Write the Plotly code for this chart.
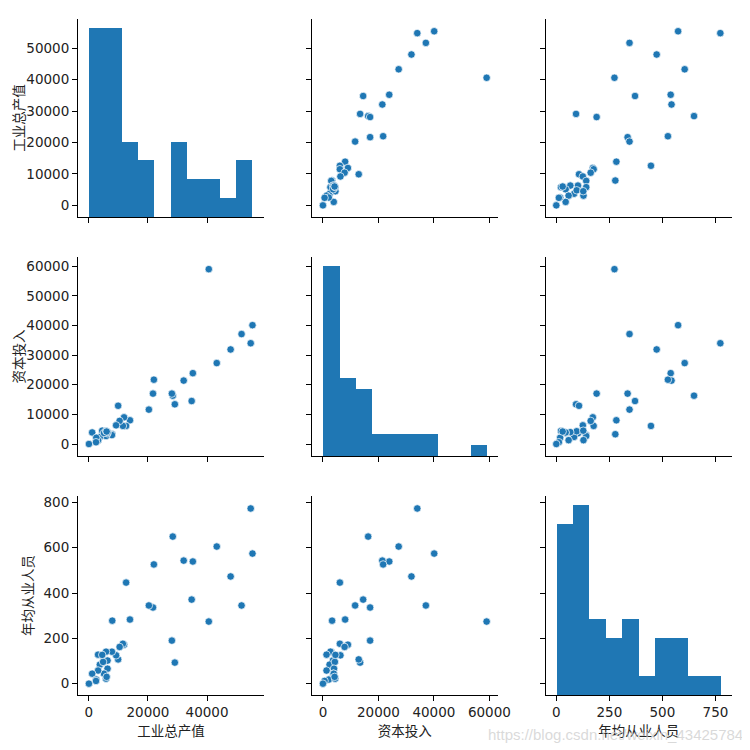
import numpy as np
import plotly.graph_objects as go

names = ["工业总产值", "资本投入", "年均从业人员"]

# values in raw units
output = [40600, 55400, 51700, 54800, 48000, 43300, 35200, 32100, 22000, 21700,
          28400, 28100, 29100, 34800, 20300, 9900, 13900, 11900, 12600, 11500,
          10400, 9200,
          7900, 7800, 5800, 3100, 6300, 3700, 4800, 4500, 6300, 5100,
          3100, 1100, 2500, 2400, 5800, 6000, 0]
capital = [59000, 40100, 37100, 34000, 31900, 27300, 23900, 21400, 21700, 17000,
           16300, 17000, 13400, 14500, 11600, 12900, 8000, 9000, 6100, 6100,
           7800, 6300,
           3300, 3000, 2700, 1300, 3600, 2400, 4300, 4500, 4000, 3700,
           1300, 3900, 2100, 600, 4400, 4200, 0]
employees = [274, 574, 345, 773, 473, 605, 539, 543, 526, 336,
             649, 190, 93, 371, 345, 107, 283, 172, 446, 176,
             162, 125,
             278, 141, 141, 128, 102, 84, 96, 127, 66, 44,
             58, 44, 18, 12, 22, 30, 0]

data = [output, capital, employees]

BLUE = "#1f77b4"
W = 750.0
OFF = 8  # page body margin
col_px = [(78, 264), (311.7, 498), (545.7, 732)]
row_px = [(19, 217), (257, 456), (496, 695)]
ranges = [[-3700, 59300], [-4050, 63100], [-50, 828]]
x_dtick = [20000, 20000, 250]
y_dtick = [10000, 10000, 200]

FONT = "DejaVu Sans, Noto Sans CJK SC, sans-serif"
CJK = "Noto Sans CJK SC, DejaVu Sans, sans-serif"

fig = go.Figure()
layout = {}

for r in range(3):
    for c in range(3):
        k = r * 3 + c + 1
        xa = "xaxis" if k == 1 else f"xaxis{k}"
        ya = "yaxis" if k == 1 else f"yaxis{k}"
        xref = "x" if k == 1 else f"x{k}"
        yref = "y" if k == 1 else f"y{k}"
        xdom = [(col_px[c][0] - OFF) / W, (col_px[c][1] - OFF) / W]
        ydom = [1 - (row_px[r][1] - OFF) / W, 1 - (row_px[r][0] - OFF) / W]
        layout[xa] = dict(
            domain=xdom,
            anchor=yref, range=ranges[c], dtick=x_dtick[c], tick0=0,
            tickformat="d", automargin=False,
            showgrid=False, zeroline=False, showline=True, linecolor="black",
            linewidth=1.1, ticks="outside", ticklen=5, tickwidth=1,
            tickcolor="black", showticklabels=(r == 2),
            tickfont=dict(family=FONT, size=13.5, color="#222"),
            title=dict(text=names[c] if r == 2 else "",
                       font=dict(family=CJK, size=13.5, color="#222"),
                       standoff=4),
        )
        layout[ya] = dict(
            domain=ydom,
            anchor=xref, range=ranges[r], dtick=y_dtick[r], tick0=0,
            tickformat="d", automargin=False,
            showgrid=False, zeroline=False, showline=True, linecolor="black",
            linewidth=1.1, ticks="outside", ticklen=5, tickwidth=1,
            tickcolor="black", showticklabels=(c == 0),
            tickfont=dict(family=FONT, size=13.5, color="#222"),
            title=dict(text=names[r] if c == 0 else "",
                       font=dict(family=CJK, size=13.5, color="#222"),
                       standoff=6),
        )
        if r == c:
            # keep the main (shared-scale) axes of the diagonal cell alive
            fig.add_trace(go.Scatter(x=[None], y=[None], mode="markers",
                                     xaxis=xref, yaxis=yref,
                                     showlegend=False, hoverinfo="skip"))
            vals = np.array(data[r], dtype=float)
            counts, edges = np.histogram(vals, bins=10)
            hk = 10 + r
            hya = f"yaxis{hk}"
            layout[hya] = dict(overlaying=yref, domain=ydom, anchor=xref,
                               range=[0, counts.max() * 1.05],
                               visible=False, showgrid=False, zeroline=False,
                               showline=False, showticklabels=False, ticks="",
                               automargin=False)
            fig.add_trace(go.Bar(
                x=edges[:-1], y=counts, width=np.diff(edges), offset=0,
                marker=dict(color=BLUE, line=dict(width=0)),
                xaxis=xref, yaxis=f"y{hk}", showlegend=False, hoverinfo="skip"))
        else:
            fig.add_trace(go.Scatter(
                x=data[c], y=data[r], mode="markers",
                marker=dict(color=BLUE, size=7.5,
                            line=dict(color="white", width=0.7)),
                xaxis=xref, yaxis=yref, showlegend=False))

fig.update_layout(**layout)
fig.update_layout(
    width=750, height=750,
    margin=dict(l=0, r=0, t=0, b=0, autoexpand=False),
    paper_bgcolor="white", plot_bgcolor="white",
    bargap=0,
    annotations=[dict(text="https://blog.csdn.net/weixin_43425784",
                      x=(745 - OFF) / W, y=1 - (734 - OFF) / W,
                      xref="paper", yref="paper",
                      xanchor="right", yanchor="middle", showarrow=False,
                      font=dict(family="Liberation Sans, Arial, sans-serif",
                                size=15, color="rgba(205,205,205,0.75)"))],
)

fig.write_html("out.html")
